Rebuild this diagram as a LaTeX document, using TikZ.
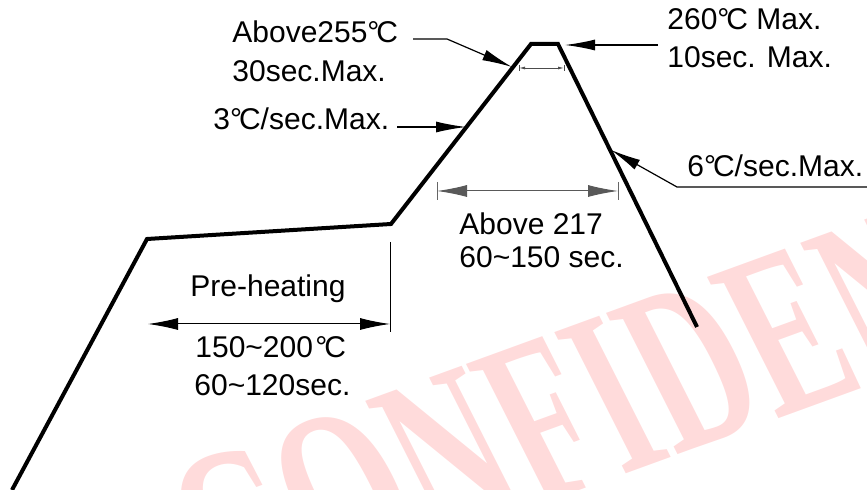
\documentclass[tikz,border=0pt]{standalone}
\usepackage{fontspec}
\setmainfont{Liberation Sans}
\newfontfamily\markfont{Liberation Serif}
\usetikzlibrary{positioning,arrows.meta}
\newcommand{\degC}{°\kern-0.1em C}
\newcommand{\tl}{\textasciitilde}

\begin{document}
\begin{tikzpicture}
[x=0.5pt, y=-0.5pt,
 profile/.style={line width=2pt, line join=miter},
 leader/.style={line width=0.6pt, -{Latex[length=15pt,width=5.5pt]}},
 dimline/.style={line width=0.5pt, {Latex[length=15pt,width=6pt]}-{Latex[length=15pt,width=6pt]}},
 peakdim/.style={line width=0.4pt, black!70, {Latex[length=3pt,width=1.5pt]}-{Latex[length=3pt,width=1.5pt]}},
 tick/.style={line width=0.5pt},
 txt/.style={font=\fontsize{15}{18}\selectfont, inner sep=0pt, anchor=base west},
 stampstyle/.style={font=\markfont\bfseries\fontsize{120}{144}\selectfont, text=red!14, inner sep=0pt, anchor=base west}]
\useasboundingbox (0,0) rectangle (867,490);

% watermark
\node[stampstyle, rotate=20, xslant=-0.12, xscale=0.62] (stamp) at (225,620) {CONFIDENTIAL};

% reflow profile
\coordinate (start) at (12,490);
\coordinate (soakA) at (147,239);
\coordinate (soakB) at (391,224);
\coordinate (peakA) at (531,44);
\coordinate (peakB) at (558,44);
\coordinate (stop) at (697,327);
\draw[profile] (start) -- (soakA) -- (soakB) -- (peakA) -- (peakB) -- (stop);

% points hit by the leaders
\coordinate (tipA) at (512,67);
\coordinate (tipB) at (466,127);
\coordinate (tipC) at (565,45);
\coordinate (tipD) at (611,150);

% labels with leaders
\node[txt] (t255) at (232,43) {Above255\degC};
\node[txt, below=19.5pt of t255.base west, anchor=base west] (t30) {30sec.Max.};
\coordinate (endA) at (413,39);
\coordinate (kneeA) at (447,39);
\draw[leader] (endA) -- (kneeA) -- (tipA);

\node[txt] (t3) at (213,130) {3\degC/sec.Max.};
\coordinate (endB) at (397,127);
\draw[leader] (endB) -- (tipB);

\node[txt] (t260) at (667,30) {260\degC{} Max.};
\node[txt, below=19pt of t260.base west, anchor=base west] (t10) {10sec. Max.};
\coordinate (endC) at (658,45);
\draw[leader] (endC) -- (tipC);

\node[txt] (t6) at (687,177) {6\degC/sec.Max.};
\coordinate (endD) at (867,187);
\coordinate (kneeD) at (677,187);
\draw[leader] (endD) -- (kneeD) -- (tipD);

% time at peak
\coordinate (pkA) at (519,68);
\coordinate (pkB) at (564,68);
\draw[tick, black!70] (pkA) ++(0,-3) -- ++(0,6);
\draw[tick, black!70] (pkB) ++(0,-3) -- ++(0,6);
\draw[peakdim] (pkA) -- (pkB);

% time above liquidus
\coordinate (wetA) at (437,191);
\coordinate (wetB) at (618,191);
\draw[tick, black!60] (wetA) ++(0,-9) -- ++(0,18);
\draw[tick, black!60] (wetB) ++(0,-9) -- ++(0,18);
\draw[dimline, black!65] (wetA) -- (wetB);
\node[txt] (t217) at (459,235) {Above 217};
\node[txt, below=16.5pt of t217.base west, anchor=base west] (t150) {60\tl150 sec.};

% pre-heating
\coordinate (soakTop) at (390,242);
\coordinate (soakBot) at (390,332);
\coordinate (soakBeg) at (148,324);
\coordinate (soakEnd) at (390,324);
\draw[tick] (soakTop) -- (soakBot);
\draw[dimline] (soakBeg) -- (soakEnd);
\node[txt] (tpre) at (190,297) {Pre-heating};
\node[txt] (ttemp) at (195,358) {150\tl200\kern0.08em\degC};
\node[txt] (ttime) at (194,396) {60\tl120sec.};
\end{tikzpicture}
\end{document}
